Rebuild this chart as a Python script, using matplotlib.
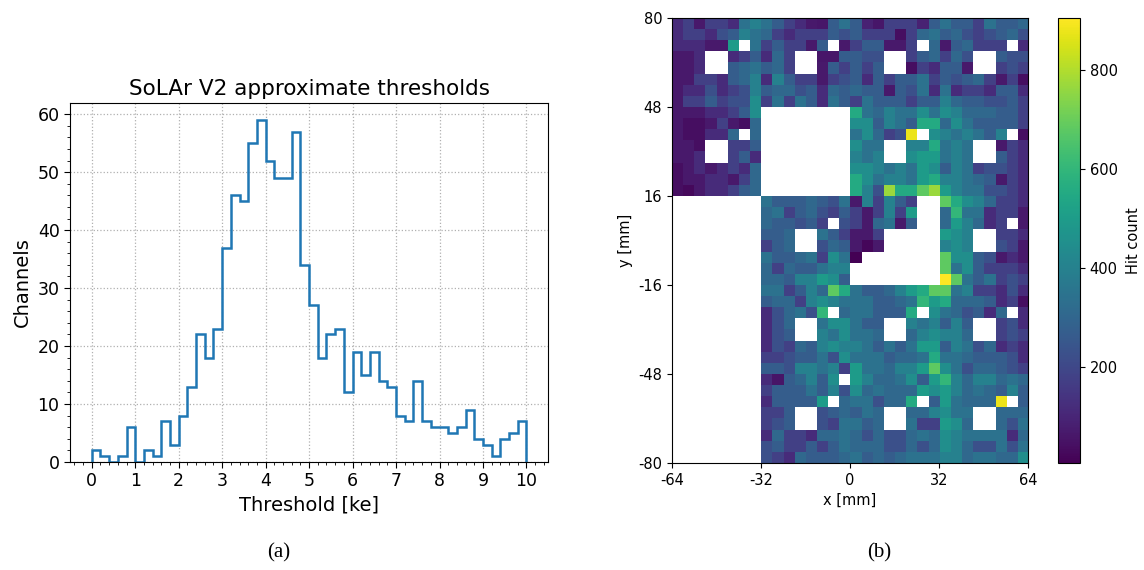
import matplotlib

matplotlib.use("Agg")
import matplotlib.pyplot as plt
import numpy as np


# (a) threshold histogram: 50 bins of 0.2 ke between 0 and 10 ke
THRESHOLD_RANGE_KE = (0.0, 10.0)
CHANNELS = [
    2, 1, 0, 1, 6, 0, 2, 1, 7, 3,
    8, 13, 22, 18, 23, 37, 46, 45, 55, 59,
    52, 49, 49, 57, 34, 27, 18, 22, 23, 12,
    19, 15, 19, 14, 13, 8, 7, 14, 7, 6,
    6, 5, 6, 9, 4, 3, 1, 4, 5, 7,
]

# (b) hit map, 32 x 40 pixels of 4 mm. Each token is a colour level read off
# the picture ("-" = no data); LEVEL_HITS turns a level into hits via the colour bar.
MAP_EXTENT_MM = (-64, 64, -80, 80)
X_TICKS_MM = [-64, -32, 0, 32, 64]
Y_TICKS_MM = [-80, -48, -16, 16, 48, 80]
CBAR_TICKS = [200, 400, 600, 800]
LEVEL_HITS = {
    "0.5": 5, "2": 20, "3": 25, "5": 40, "7": 55, "8": 60,
    "10": 65, "12": 90, "15": 115, "20": 175, "25": 225, "30": 270,
    "35": 310, "40": 345, "45": 400, "50": 450, "55": 500, "60": 555,
    "65": 600, "70": 680, "80": 770, "90": 880, "90.5": 905,
}
HIT_ROWS = [
    "15 20 10 20 20 15 40 45 40 30 20 15 10 8 30 40 30 12 8 20 20 20 12 30 40 30 30 20 40 30 30 35",
    "15 20 20 15 25 30 45 40 35 20 15 20 20 20 30 25 30 20 20 20 5 20 35 40 30 35 25 20 25 30 35 25",
    "15 15 15 10 10 55 - 40 20 30 20 20 10 30 - 10 20 30 30 10 10 20 - 35 10 30 35 20 20 20 - 15",
    "10 10 15 - - 15 20 30 15 35 20 - - 8 8 30 30 25 25 - - 20 30 35 20 35 25 - - 30 25 25",
    "10 10 15 - - 30 35 40 30 35 20 - - 10 30 20 30 20 30 - - 5 20 15 30 30 10 - - 20 25 20",
    "10 10 20 20 15 30 35 45 15 45 30 20 20 10 20 25 30 15 30 20 30 30 40 20 30 25 30 35 20 10 20 5",
    "10 15 15 25 15 20 25 45 30 35 35 25 30 15 35 30 35 30 30 10 30 25 40 15 40 15 20 20 15 30 30 15",
    "10 20 20 30 20 25 25 50 20 40 20 40 30 15 40 30 20 40 30 30 30 20 30 30 45 35 30 30 25 25 30 20",
    "10 10 10 15 15 20 30 50 - - - - - - - - 60 40 35 45 40 40 50 40 50 45 35 35 35 30 30 20",
    "10 5 5 10 20 10 5 35 - - - - - - - - 50 50 30 45 40 30 60 60 35 50 40 30 30 30 30 20",
    "10 5 5 15 15 35 - 35 - - - - - - - - 40 50 35 20 25 90 - 50 45 40 45 40 30 45 - 5",
    "10 10 5 - - 20 20 30 - - - - - - - - 50 40 40 - - 45 45 60 40 45 40 - - 10 20 15",
    "10 10 15 - - 20 30 15 - - - - - - - - 45 40 45 - - 50 55 55 40 45 40 - - 30 20 15",
    "5 10 15 10 15 20 15 35 - - - - - - - - 50 50 45 40 45 40 55 50 30 45 40 20 25 25 20 15",
    "5 10 10 15 15 10 20 35 - - - - - - - - 60 50 40 45 45 40 55 60 45 45 40 35 30 10 20 15",
    "5 3 10 15 15 20 30 35 - - - - - - - - 60 45 25 80 60 60 70 80 55 45 40 40 25 25 20 15",
    "- - - - - - - - 40 30 30 30 35 30 25 40 10 45 20 45 30 20 - - 70 60 50 45 35 20 20 15",
    "- - - - - - - - 35 40 20 30 35 25 20 30 20 10 20 45 20 55 - - 35 65 40 40 15 20 20 10",
    "- - - - - - - - 35 30 30 25 30 20 - 25 20 10 35 40 10 30 - - 35 55 45 35 15 20 - 10",
    "- - - - - - - - 30 30 35 - - 40 30 20 10 10 20 - - - - - 55 50 45 - - 20 20 15",
    "- - - - - - - - 20 30 35 - - 25 35 30 10 2 10 - - - - - 45 50 45 - - 25 20 10",
    "- - - - - - - - 40 30 30 35 40 20 50 40 0.5 - - - - - - - 70 50 50 30 25 10 15 10",
    "- - - - - - - - 35 20 35 30 30 40 45 45 - - - - - - - - 70 40 50 30 20 20 20 15",
    "- - - - - - - - 35 35 30 45 45 55 50 30 - - - - - - - - 90.5 70 40 30 40 20 25 20",
    "- - - - - - - - 40 40 20 30 45 35 70 60 40 30 30 35 45 55 60 70 70 40 45 20 20 15 25 15",
    "- - - - - - - - 30 35 35 20 45 50 45 40 40 40 30 30 35 40 65 55 60 35 35 35 30 15 20 5",
    "- - - - - - - - 15 25 35 40 25 65 - 35 40 40 30 30 30 60 - 50 40 35 25 30 15 35 - 15",
    "- - - - - - - - 15 25 35 - - 40 50 50 40 30 30 - - 45 40 45 30 45 30 - - 20 25 15",
    "- - - - - - - - 15 25 30 - - 45 40 50 40 40 35 - - 35 45 50 45 45 35 - - 20 25 20",
    "- - - - - - - - 15 25 20 35 30 45 50 45 45 40 30 40 30 40 55 55 30 45 40 25 35 15 20 15",
    "- - - - - - - - 20 20 25 30 30 40 25 50 40 40 40 30 35 35 40 60 40 40 35 30 30 30 25 15",
    "- - - - - - - - 30 30 25 45 45 40 45 20 55 40 40 35 45 45 55 70 50 40 25 35 35 30 25 20",
    "- - - - - - - - 15 7 30 35 45 30 50 - 55 45 35 35 40 50 30 55 65 45 35 45 45 35 40 35",
    "- - - - - - - - 20 30 30 30 40 30 45 25 50 35 40 35 35 35 55 50 55 45 35 40 35 30 45 30",
    "- - - - - - - - 15 30 30 30 30 55 - 35 40 40 25 35 35 60 - 30 55 40 35 35 35 90 - 30",
    "- - - - - - - - 20 20 30 - - 25 30 35 30 40 35 - - 35 35 45 50 40 40 - - 35 35 35",
    "- - - - - - - - 20 25 30 - - 25 20 40 40 30 35 - - 40 20 20 55 50 35 - - 35 25 40",
    "- - - - - - - - 15 35 20 20 15 35 35 40 35 25 35 25 25 35 40 35 50 45 40 40 40 40 15 35",
    "- - - - - - - - 25 30 20 20 30 20 30 40 35 35 35 25 25 35 25 35 50 45 35 25 25 40 25 40",
    "- - - - - - - - 25 20 15 35 30 30 30 35 40 30 35 30 35 40 40 40 45 45 35 40 40 35 35 50",
]


def parse_hits(rows: list[str]) -> np.ndarray:
    grid = [[np.nan if tok == "-" else float(LEVEL_HITS[tok]) for tok in row.split()] for row in rows]
    return np.asarray(grid, dtype=float)


def plot_thresholds(ax: plt.Axes) -> None:
    edges = np.linspace(*THRESHOLD_RANGE_KE, len(CHANNELS) + 1)
    ax.hist(edges[:-1], bins=edges, weights=CHANNELS, histtype="step", color="#1f77b4", linewidth=1.8)
    ax.set_xticks(range(0, 11))
    ax.minorticks_on()
    ax.grid(which="major", linestyle=":", color="#b0b0b0", linewidth=0.9)
    ax.tick_params(which="major", labelsize=12.5, length=4)
    ax.tick_params(which="minor", length=2)
    ax.set_xlabel("Threshold [ke]", fontsize=14)
    ax.set_ylabel("Channels", fontsize=14)
    ax.set_title("SoLAr V2 approximate thresholds", fontsize=15.5)


def plot_hitmap(fig: plt.Figure, ax: plt.Axes, cax: plt.Axes) -> None:
    hits = parse_hits(HIT_ROWS)
    im = ax.imshow(
        hits,
        cmap="viridis",
        extent=MAP_EXTENT_MM,
        origin="upper",
        interpolation="nearest",
        aspect="auto",
    )
    ax.set_xticks(X_TICKS_MM)
    ax.set_yticks(Y_TICKS_MM)
    ax.tick_params(labelsize=10.5)
    ax.set_xlabel("x [mm]", fontsize=10.5)
    ax.set_ylabel("y [mm]", fontsize=10.5)
    cbar = fig.colorbar(im, cax=cax, ticks=CBAR_TICKS)
    cbar.ax.tick_params(labelsize=10.5)
    cbar.set_label("Hit count", fontsize=10.5, labelpad=6)


def main() -> None:
    plt.rcParams["axes.unicode_minus"] = False
    fig = plt.figure(figsize=(11.44, 5.70), dpi=100)
    ax_hist = fig.add_axes([0.0612, 0.1895, 0.418, 0.630])
    ax_map = fig.add_axes([0.5874, 0.1877, 0.3112, 0.7807])
    ax_cbar = fig.add_axes([0.9248, 0.1877, 0.0192, 0.7807])

    plot_thresholds(ax_hist)
    plot_hitmap(fig, ax_map, ax_cbar)

    caption_y = 1 - 553 / 570
    fig.text(279 / 1144, caption_y, "(a)", family="Liberation Serif", fontsize=15, ha="center", va="center")
    fig.text(879 / 1144, caption_y, "(b)", family="Liberation Serif", fontsize=15, ha="center", va="center")

    fig.savefig("out.png", dpi=100)
    plt.close(fig)


if __name__ == "__main__":
    main()
